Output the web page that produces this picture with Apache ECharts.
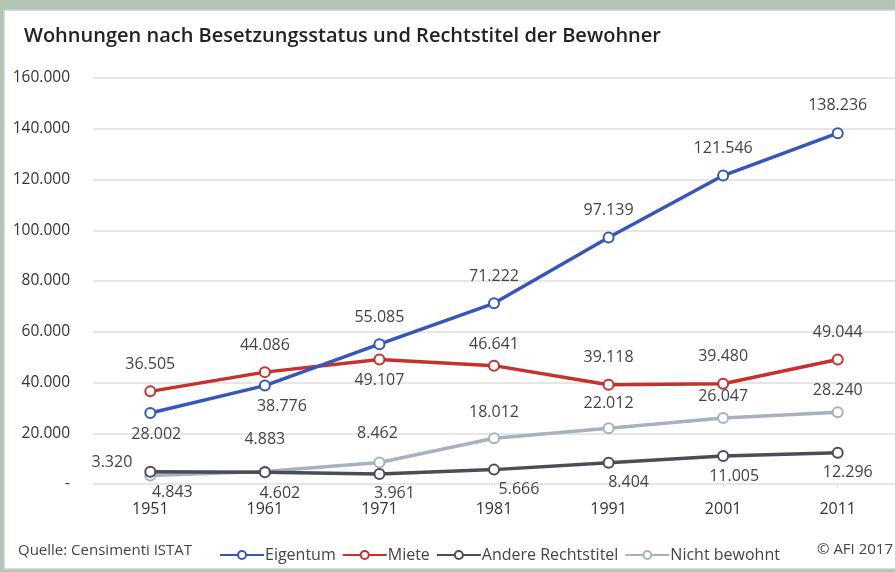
<!DOCTYPE html>
<html><head><meta charset="utf-8">
<script src="https://cdn.jsdelivr.net/npm/echarts@6/dist/echarts.min.js"></script>
<style>html,body{margin:0;padding:0;background:#b3c6b6;}#c{width:895px;height:572px;}</style>
</head><body><div id="c"></div>
<script>
const years = ['1951','1961','1971','1981','1991','2001','2011'];
const eigentum = [28002, 38776, 55085, 71222, 97139, 121546, 138236];
const miete = [36505, 44086, 49107, 46641, 39118, 39480, 49044];
const andere = [4843, 4602, 3961, 5666, 8404, 11005, 12296];
const nichtBewohnt = [3320, 4883, 8462, 18012, 22012, 26047, 28240];
const seriesNames = ['Eigentum', 'Miete', 'Andere Rechtstitel', 'Nicht bewohnt'];
const yTicks = [0, 20000, 40000, 60000, 80000, 100000, 120000, 140000, 160000];

// label placement styles (not data)
const eigPos = [['bottom',[6,-1]],['bottom',[17,-1]],['top',[0,-5]],['top',[0,-5]],['top',[0,-5]],['top',[0,-5]],['top',[0,-6]]];
const mietePos = [['top',[0,-5]],['top',[0,-5]],['bottom',[0,-1]],['top',[0,1]],['top',[0,-5]],['top',[0,-5]],['top',[0,-5]]];
const anderePos = [['bottom',[22,-1]],['bottom',[15,-1]],['bottom',[15,-3]],['bottom',[25,-2]],['bottom',[20,-2]],['bottom',[11,-2]],['bottom',[10,-2]]];
const nichtPos = [['left',[-4,-13]],['top',[0,-10]],['top',[-2,-7]],['top',[0,-4]],['top',[0,-3]],['top',[0,1]],['top',[0,0]]];

function fmt(v){ return v.toLocaleString('de-DE'); }
function mkData(vals, pos){
  return vals.map((v,i)=>({value:v, label:{position:pos[i][0], offset:pos[i][1]}}));
}
const colors = ['#3558b8','#c8302c','#4a4c58','#a9b0c0'];
const allVals = [eigentum, miete, andere, nichtBewohnt];
const allPos = [eigPos, mietePos, anderePos, nichtPos];

const chart = echarts.init(document.getElementById('c'));
const FONT = 'Open Sans';
chart.setOption({
  backgroundColor: 'transparent',
  animation: false,
  graphic: [
    {type:'rect', shape:{x:4,y:10,width:900,height:559}, style:{fill:'#ffffff', stroke:'#c9cfc9', lineWidth:1.5}, z:-10},
    {type:'text', left:24, top:26, style:{text:'Wohnungen nach Besetzungsstatus und Rechtstitel der Bewohner', fill:'#222', font:'600 20px "Open Sans"'}},
    {type:'text', left:18, top:543, style:{text:'Quelle: Censimenti ISTAT', fill:'#444', font:'15px "Open Sans"'}},
    {type:'text', right:2, top:542, style:{text:'© AFI 2017', fill:'#444', font:'15px "Open Sans"'}}
  ],
  legend: {
    data: seriesNames,
    left: 214, top: 542,
    itemWidth: 44, itemHeight: 10, itemGap: 6,
    textStyle: {color:'#444', fontSize:16, fontFamily:FONT, padding:[0,0,0,-4]}
  },
  grid: {left:93, right:-1, top:78, bottom:88},
  xAxis: {
    type:'category', data: years, boundaryGap:true,
    axisLine:{show:false},
    axisTick:{show:true, alignWithLabel:true, length:4, lineStyle:{color:'#e6e6e6'}},
    axisLabel:{color:'#333', fontSize:16, fontFamily:FONT, margin:17}
  },
  yAxis: {
    type:'value', min:0, max:160000, interval:20000,
    axisLine:{show:false}, axisTick:{show:false},
    splitLine:{lineStyle:{color:'#dedede', width:1.5}},
    axisLabel:{color:'#333', fontSize:15.5, fontFamily:FONT, margin:23,
      formatter: v => v===0 ? '-' : fmt(v)}
  },
  series: seriesNames.map((name, k) => ({
    name, type:'line', data: mkData(allVals[k], allPos[k]),
    color: colors[k],
    symbol:'circle', symbolSize:10, showAllSymbol:true,
    lineStyle:{width:3.5, color:colors[k]},
    itemStyle:{color:'#ffffff', borderColor:colors[k], borderWidth:2},
    z: 10-k,
    label:{show:true, color:'#444', fontSize:16, fontFamily:FONT, distance:8,
      formatter: p => fmt(p.value)}
  }))
});
</script></body></html>
